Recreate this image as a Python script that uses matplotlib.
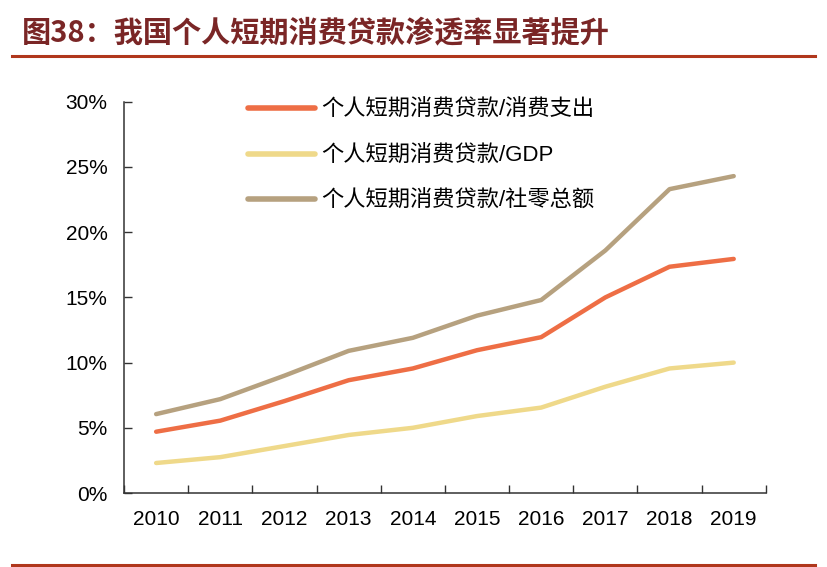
import matplotlib
matplotlib.use("Agg")
import matplotlib.pyplot as plt
from matplotlib.ticker import FuncFormatter, MultipleLocator
from matplotlib.lines import Line2D

years = ["2010", "2011", "2012", "2013", "2014", "2015", "2016", "2017", "2018", "2019"]
ratio_consumption = [4.7, 5.55, 7.05, 8.65, 9.55, 10.95, 11.95, 15.0, 17.35, 17.95]
ratio_gdp = [2.3, 2.75, 3.6, 4.45, 5.0, 5.9, 6.55, 8.15, 9.55, 10.0]
ratio_retail = [6.05, 7.2, 9.0, 10.9, 11.9, 13.6, 14.8, 18.6, 23.3, 24.3]
series_labels = ["个人短期消费贷款/消费支出", "个人短期消费贷款/GDP", "个人短期消费贷款/社零总额"]
title_text = "图38：我国个人短期消费贷款渗透率显著提升"

colors = ["#EE6E45", "#EFD98A", "#B6A17F"]
fam = ["Liberation Sans", "Noto Sans CJK SC", "DejaVu Sans"]
plt.rcParams["font.family"] = fam

fig = plt.figure(figsize=(8.27, 5.67), dpi=100)
ax = fig.add_axes([0.150, 0.1305, 0.776, 0.690])

x = list(range(len(years)))
for vals, c in zip([ratio_consumption, ratio_gdp, ratio_retail], colors):
    ax.plot(x, vals, color=c, lw=3.2, solid_capstyle="round", solid_joinstyle="round")

ax.set_xlim(-0.5, len(years) - 0.5)
ax.set_ylim(0, 30)
ax.yaxis.set_major_locator(MultipleLocator(5))
ax.yaxis.set_major_formatter(FuncFormatter(lambda v, p: f"{v:.0f}%"))
ax.set_xticks(x, minor=True)
ax.set_xticklabels(years, minor=True)
ax.set_xticks([-0.5] + [i + 0.5 for i in range(len(years))])
ax.set_xticklabels([])
ax.tick_params(axis="x", which="major", direction="in", length=6, width=1, color="#333333")
ax.tick_params(axis="x", which="minor", length=0, pad=12, labelsize=15)
ax.tick_params(axis="y", direction="in", length=6, width=1, color="#333333", labelsize=15, pad=12)
for s in ["top", "right"]:
    ax.spines[s].set_visible(False)
for s in ["left", "bottom"]:
    ax.spines[s].set_color("#333333")
    ax.spines[s].set_linewidth(1.1)

handles = [Line2D([0], [0], color=c, lw=4, solid_capstyle="round") for c in colors]
ax.legend(handles, series_labels, loc="upper left", bbox_to_anchor=(0.162, 1.056),
          frameon=False, handlelength=3.0, handletextpad=0.3,
          labelspacing=1.1, prop={"family": fam, "size": 16})

fig.text(0.026, 0.943, title_text, fontsize=21, fontweight="bold", color="#7A2626",
         family=["Noto Sans CJK SC", "DejaVu Sans"], va="center", ha="left")
fig.add_artist(Line2D([0.015, 0.986], [0.901, 0.901], color="#B0371C", lw=2.2, transform=fig.transFigure))
fig.add_artist(Line2D([0.015, 0.986], [0.004, 0.004], color="#B0371C", lw=2.2, transform=fig.transFigure))

fig.savefig("out.png", dpi=100)
